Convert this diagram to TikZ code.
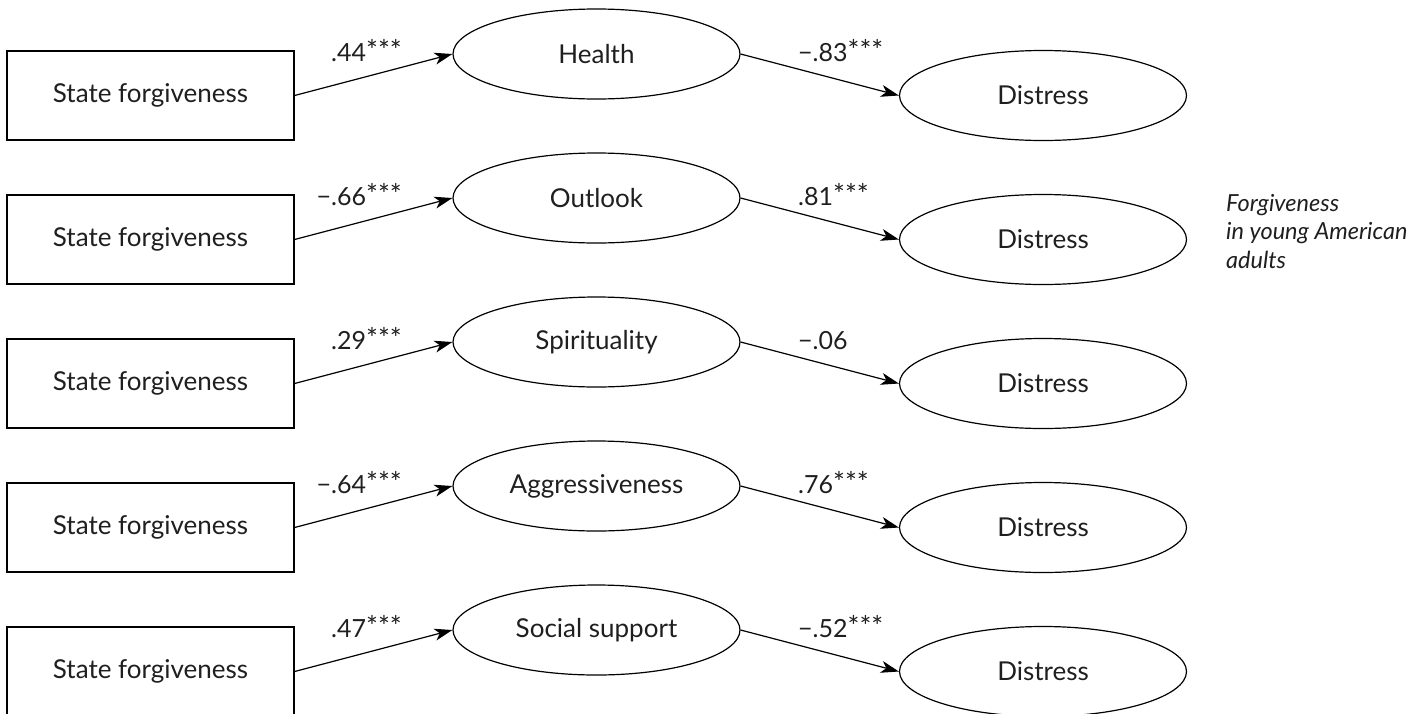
\documentclass[tikz,border=0pt]{standalone}
\usepackage{fontspec}
\setmainfont{Lato}
\usetikzlibrary{shapes.geometric,arrows.meta}
\newcommand{\stars}{\raisebox{0.02em}{\fontsize{28}{28}\selectfont ***}}
\begin{document}
\begin{tikzpicture}[x=1pt,y=-1pt,
  txt/.style={font=\fontsize{26}{31}\selectfont, text=black!88},
  srcbox/.style={draw, line width=1.2pt, minimum width=287pt, minimum height=89pt, inner sep=0pt, txt},
  latent/.style={draw, ellipse, line width=1.2pt, minimum width=287pt, minimum height=90pt, inner sep=0pt, txt},
  conn/.style={-{Stealth[length=18pt,width=12pt,inset=5pt]}, line width=1.2pt},
  coef/.style={font=\fontsize{25}{30}\selectfont, text=black!88, inner sep=0pt},
  note/.style={font=\fontsize{23.5}{28.5}\selectfont\itshape, text=black!88, align=left, inner sep=0pt}
]
\useasboundingbox (0,0) rectangle (1417,713);
\clip (0,0) rectangle (1417,713);
\foreach \r/\m in {0/Health, 1/Outlook, 2/Spirituality, 3/Aggressiveness, 4/Social support}{
  \pgfmathsetmacro{\dy}{144*\r}
  \node[srcbox] (src\r) at (150.5, 95.5+\dy) {State forgiveness};
  \node[latent] (med\r) at (596.5, 54+\dy) {\m};
  \node[latent] (dis\r) at (1043, 95.5+\dy) {Distress};
  \draw[conn] (src\r.east) -- (med\r.west);
  \draw[conn] (med\r.east) -- (dis\r.west);
}
\node[coef, anchor=base east] (a0) at (402, 61) {.44\stars};
\node[coef, anchor=base east] (a1) at (402, 205) {−.66\stars};
\node[coef, anchor=base east] (a2) at (402, 349) {.29\stars};
\node[coef, anchor=base east] (a3) at (402, 493) {−.64\stars};
\node[coef, anchor=base east] (a4) at (402, 637) {.47\stars};
\node[coef, anchor=base west] (b0) at (798, 61) {−.83\stars};
\node[coef, anchor=base west] (b1) at (798, 205) {.81\stars};
\node[coef, anchor=base west] (b2) at (798, 349) {−.06};
\node[coef, anchor=base west] (b3) at (798, 493) {.76\stars};
\node[coef, anchor=base west] (b4) at (798, 637) {−.52\stars};
\node[note, anchor=base west] (title) at (1226, 268) {Forgiveness\\in young American\\adults};
\end{tikzpicture}
\end{document}
